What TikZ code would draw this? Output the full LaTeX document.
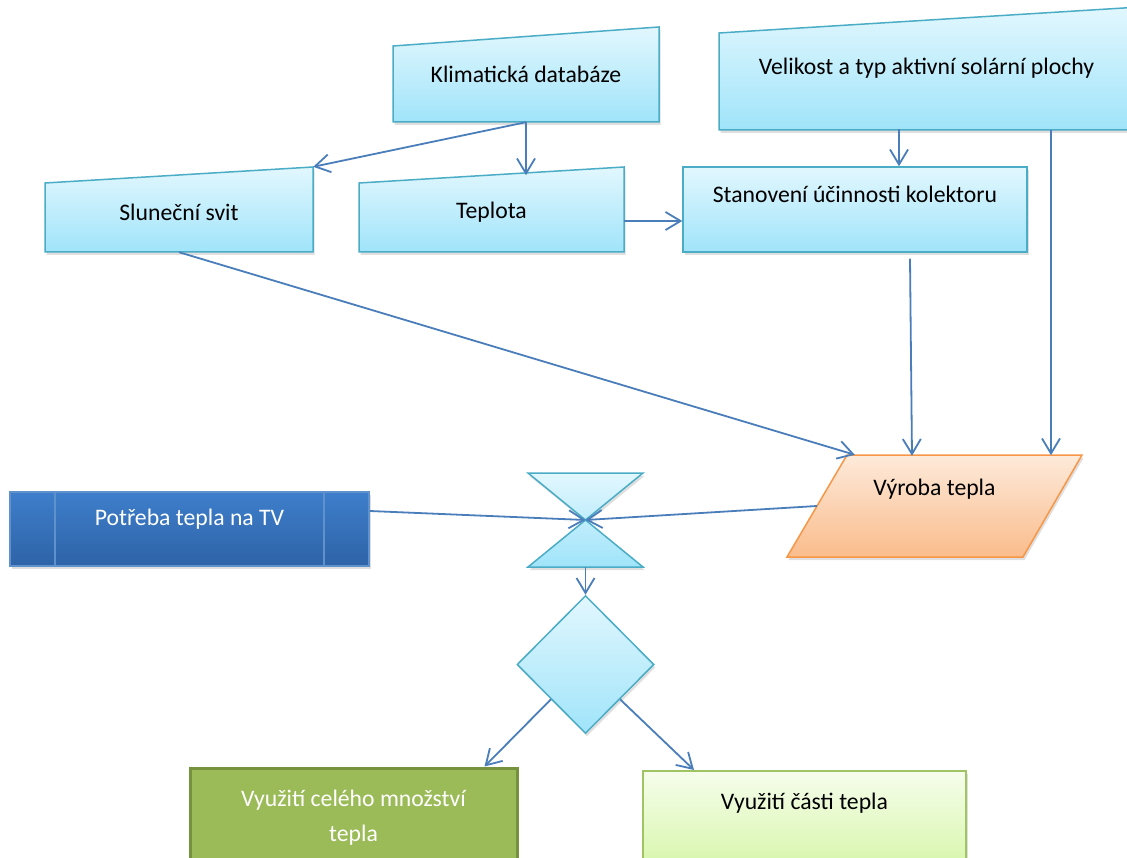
\documentclass[tikz,border=0pt]{standalone}
\usepackage{fontspec}
\setmainfont{Carlito}
\usetikzlibrary{arrows.meta,shapes.geometric,shadows,positioning}

\definecolor{aqualine}{RGB}{75,172,198}
\definecolor{aquatop}{RGB}{226,247,254}
\definecolor{aquabot}{RGB}{160,228,250}
\definecolor{flowblue}{RGB}{74,126,187}
\definecolor{orangeline}{RGB}{247,150,70}
\definecolor{orangetop}{RGB}{253,234,218}
\definecolor{orangebot}{RGB}{250,188,140}
\definecolor{needtop}{RGB}{62,126,203}
\definecolor{needbot}{RGB}{46,99,167}
\definecolor{needline}{RGB}{95,145,205}
\definecolor{oliveline}{RGB}{118,146,60}
\definecolor{olivefill}{RGB}{155,187,89}
\definecolor{limeline}{RGB}{160,195,100}
\definecolor{limetop}{RGB}{246,253,236}
\definecolor{limebot}{RGB}{214,246,168}

\begin{document}
\begin{tikzpicture}[x=1pt, y=-1pt, font=\fontsize{23.7}{29}\selectfont,
  lifted/.style={drop shadow={opacity=0.25, shadow xshift=1.5pt, shadow yshift=-3pt}},
  inbox/.style={lifted, draw=aqualine, line width=1.5pt, top color=aquatop, bottom color=aquabot},
  frame/.style={rectangle, inner sep=0pt},
  needbox/.style={lifted, rectangle, draw=needline, line width=1.5pt, top color=needtop, bottom color=needbot,
    path picture={\draw[needline, line width=1.5pt]
      ([xshift=45pt]path picture bounding box.north west) -- ([xshift=45pt]path picture bounding box.south west)
      ([xshift=-45pt]path picture bounding box.north east) -- ([xshift=-45pt]path picture bounding box.south east);}},
  flow/.style={draw=flowblue, line width=1.8pt, -{Straight Barb[length=15pt, width=18pt]}}]

  \useasboundingbox (0,0) rectangle (1127,858);

  % inputs
  \path[inbox] (393,122) -- (393,46) -- (659,27) -- (659,122) -- cycle;
  \node[frame, minimum width=266pt, minimum height=95pt] (klima) at (526,74.5) {Klimatická databáze};

  \path[inbox] (45,252) -- (45,183) -- (313,167) -- (313,252) -- cycle;
  \node[frame, minimum width=268pt, minimum height=85pt,
    label={[yshift=-2.5pt]center:Sluneční svit}] (sun) at (179,209.5) {};

  \path[inbox] (359,252) -- (359,183) -- (624,167) -- (624,252) -- cycle;
  \node[frame, minimum width=265pt, minimum height=85pt,
    label={[yshift=-3pt]center:Teplota}] (temp) at (491.5,209.5) {};

  \path[inbox] (719,130) -- (719,33) -- (1140,7) -- (1140,130) -- cycle;
  \node[frame, minimum width=415pt, minimum height=123pt] (area) at (926.5,68.5) {Velikost a typ aktivní solární plochy};

  \node[inbox, rectangle, minimum width=344pt, minimum height=85pt,
    label={[yshift=15pt]center:Stanovení účinnosti kolektoru}] (eff) at (855,209.5) {};

  % heat production
  \path[lifted, draw=orangeline, line width=1.5pt, top color=orangetop, bottom color=orangebot]
    (787,557) -- (847,455) -- (1082,455) -- (1023,557) -- cycle;
  \node[frame, minimum width=295pt, minimum height=102pt,
    label={[yshift=17pt]center:Výroba tepla}] (out) at (934.5,506) {};

  % hourglass and decision
  \path[inbox] (528,473) -- (643,473) -- (585.5,520) -- cycle (585.5,520) -- (643,567) -- (528,567) -- cycle;
  \coordinate (merge) at (585.5,520);
  \coordinate (hg-bot) at (585.5,567);

  \node[inbox, diamond, minimum width=137pt, minimum height=138pt, inner sep=0pt] (dec) at (585.5,664.5) {};

  \node[needbox, minimum width=359pt, minimum height=74pt,
    label={[text=white, yshift=10pt]center:Potřeba tepla na TV}] (need) at (189.5,529) {};

  \node[lifted, rectangle, draw=oliveline, line width=3pt, fill=olivefill, minimum width=327pt, minimum height=100pt,
    text=white, align=center, font=\fontsize{23.7}{35}\selectfont] (full) at (353.5,818) {Využití celého množství\\tepla};

  \node[lifted, rectangle, draw=limeline, line width=2pt, top color=limetop, bottom color=limebot,
    minimum width=323pt, minimum height=100pt,
    label={[yshift=18pt]center:Využití části tepla}] (part) at (804.5,821) {};

  % connectors
  \draw[flow] (klima.south) -- (sun.north east);
  \draw[flow] (klima.south) -- ([yshift=-53pt]klima.south);
  \draw[flow] ([yshift=-11.5pt]temp.east) -- ([yshift=-11.5pt]eff.west);
  \draw[flow] ([xshift=44pt, yshift=37pt]eff.north) -- ([xshift=44pt]eff.north);
  \draw[flow] ([xshift=124.5pt]area.south) -- ([xshift=124.5pt, yshift=-325pt]area.south);
  \draw[flow] ([xshift=55pt, yshift=-6pt]eff.south) -- ([xshift=57pt, yshift=-203pt]eff.south);
  \draw[flow] (sun.south) -- ([xshift=68pt]out.north west);
  \draw[flow] ([yshift=18pt]need.east) -- (merge);
  \draw[flow] ([xshift=30pt]out.west) -- (merge);
  \draw[flow] (hg-bot) -- (dec.north);
  \draw[flow] (dec.south west) -- ([xshift=-34pt]full.north east);
  \draw[flow] (dec.south east) -- ([xshift=52pt]part.north west);
\end{tikzpicture}
\end{document}
